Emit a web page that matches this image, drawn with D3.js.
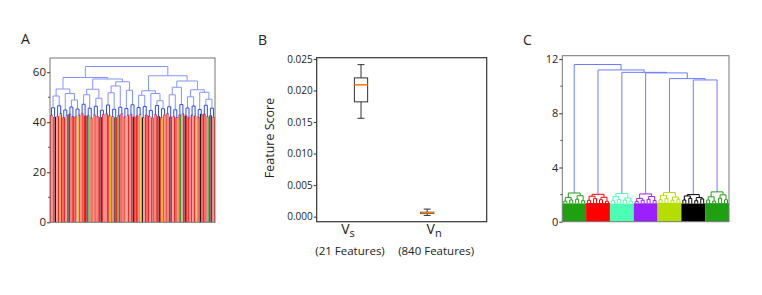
<!DOCTYPE html>
<html>
<head>
<meta charset="utf-8">
<script src="https://cdn.jsdelivr.net/npm/d3@7"></script>
<style>
	body { margin: 0; background: #fff; }
	text { font-family: 'Open Sans', sans-serif; fill: #222; }
</style>
</head>
<body>
<script>
// ---- panel A: dendrogram over all features ----
// leaf groups: [group merge, left pair merge, right pair merge, leaf colours]
var groupsA = [
	[45.8, 42.9, 42.1, 'rprk'], [46.6, 42.4, 43.5, 'pryr'], [44.9, 41.9, 42.8, 'rrpg'],
	[46.1, 43.3, 42.3, 'kprr'], [45.3, 42.2, 42.9, 'rpyr'], [47.2, 43.6, 42.6, 'prrk'],
	[45.6, 42.7, 41.8, 'rgpr'], [46.4, 43.0, 42.4, 'yrpr'], [44.8, 42.0, 43.2, 'rkrp'],
	[46.9, 43.4, 42.7, 'prry'], [45.2, 42.3, 41.9, 'rpkr'], [46.0, 42.8, 43.4, 'grrp'],
	[45.5, 42.2, 42.8, 'rypr'], [47.0, 43.2, 42.1, 'prkr'], [45.9, 42.6, 43.1, 'rrpy'],
	[46.3, 41.9, 42.9, 'kprr'], [44.7, 42.5, 41.8, 'rpgr'], [46.7, 43.1, 42.4, 'prrk'],
	[45.4, 42.0, 43.0, 'ryrp'], [46.2, 43.5, 42.2, 'rpkr'], [45.0, 42.4, 41.9, 'prry'],
	[47.1, 43.0, 43.4, 'rgpr'], [45.7, 42.6, 42.0, 'krrp'], [46.5, 42.9, 42.5, 'rpry'],
	[45.1, 42.1, 43.3, 'prkr'], [46.8, 43.3, 42.3, 'rrpg'], [45.6, 42.7, 42.0, 'rkpr']
];
// upper tree: [merge height, left, right], numbers are group indices
var topTreeA = [62.3,
	[57.9,
		[53.3, [50.5, 0, 1], [51.5, 2, [48.9, 3, 4]]],
		[57.3,
			[53.2, [51.0, 5, 6], [49.6, 7, 8]],
			[56.2, [54.5, [51.8, 9, 10], 11], [52.8, 12, 13]]]],
	[58.6,
		[52.6, [50.8, 14, 15], [51.5, 16, [48.6, 17, 18]]],
		[56.5,
			[54.0, [51.0, 19, 20], 21],
			[53.0, [50.2, 22, 23], [52.0, 24, [49.2, 25, 26]]]]]
];
var leafColorsA = { r: '#ff1f1f', p: '#ef8585', k: '#1a1a1a', y: '#d4c21c', g: '#2e9e2e' };
var ticksA = [0, 20, 40, 60];
var minorTicksA = [10, 30, 50];

// ---- panel B: feature score box plots ----
var seriesB = ['s', 'n'];
var featureCountB = [21, 840];
var whiskerLoB = [0.0156, 0.0002];
var q1B = [0.0182, 0.0005];
var medianB = [0.0209, 0.0006];
var q3B = [0.0220, 0.0007];
var whiskerHiB = [0.0241, 0.0012];
var ticksB = [0, 0.005, 0.010, 0.015, 0.020, 0.025];

// ---- panel C: dendrogram of the 7 clusters ----
var clusterColorsC = ['#1fa012', '#ff0000', '#4dffb2', '#9b1fff', '#b5dd00', '#000000', '#1fa012'];
var clusterBlockC = [1.35, 1.38, 1.33, 1.36, 1.4, 1.34, 1.37];
// each cluster's sub-tree, 0 marks a leaf
var clusterTreesC = [
	[2.12, [1.78, [1.52, 0, 0], [1.6, 0, 0]], [1.92, [1.66, 0, 0], [1.55, 0, 0]]],
	[2.02, [1.88, [1.58, 0, 0], [1.7, 0, 0]], [1.8, [1.62, 0, 0], [1.5, 0, 0]]],
	[2.08, [1.85, [1.55, 0, 0], [1.64, 0, 0]], [1.75, [1.6, 0, 0], [1.52, 0, 0]]],
	[2.05, [1.72, [1.5, 0, 0], [1.58, 0, 0]], [1.86, [1.65, 0, 0], [1.56, 0, 0]]],
	[2.15, [1.95, [1.62, 0, 0], [1.7, 0, 0]], [1.82, [1.58, 0, 0], [1.66, 0, 0]]],
	[2.0, [1.9, [1.6, 0, 0], [1.72, 0, 0]], [1.78, [1.55, 0, 0], [1.68, 0, 0]]],
	[2.2, [1.84, [1.6, 0, 0], [1.52, 0, 0]], [1.98, [1.74, 0, 0], [1.62, 0, 0]]]
];
var topTreeC = [11.6, 0, [11.2, 1, [11.02, 2, [10.98, 3, [10.56, 4, [10.46, 5, 6]]]]]];
var ticksC = [0, 4, 8, 12];
var minorTicksC = [2, 6, 10];

var width = 762, height = 295;
var svg = d3.select('body').append('svg')
	.attr('width', width)
	.attr('height', height);

function panelLetter(t, x, y) {
	svg.append('text').text(t)
		.attr('x', x).attr('y', y)
		.style('font-size', '14px');
}

function frame(box, color, w) {
	svg.append('rect')
		.attr('x', box.x0).attr('y', box.y1)
		.attr('width', box.x1 - box.x0).attr('height', box.y0 - box.y1)
		.attr('fill', 'none')
		.attr('stroke', color)
		.attr('stroke-width', w);
}

function leftAxis(box, y, ticks, minor, fmt, size) {
	var g = svg.append('g').attr('transform', 'translate(' + box.x0 + ',0)');
	g.call(d3.axisLeft(y).tickValues(ticks).tickFormat(fmt).tickSize(3).tickPadding(1));
	g.select('.domain').remove();
	g.selectAll('text').style('font-size', size).style('font-family', "'Open Sans', sans-serif").attr('fill', '#222');
	g.selectAll('line').attr('stroke', '#333');
	if (minor) {
		g.selectAll('.minor').data(minor).enter().append('line')
			.attr('x1', -2).attr('x2', 0)
			.attr('y1', function(d) { return y(d); })
			.attr('y2', function(d) { return y(d); })
			.attr('stroke', '#555');
	}
}

// draws a scipy style dendrogram from a laid out hierarchy
function drawDendro(root, x0, y, linkColor, leafColor, w) {
	var g = svg.append('g');
	root.descendants().filter(function(d) { return d.parent; }).forEach(function(d) {
		g.append('line')
			.attr('x1', x0 + d.x).attr('x2', x0 + d.x)
			.attr('y1', y(d.data.h)).attr('y2', y(d.parent.data.h))
			.attr('stroke', d.children ? linkColor(d.parent) : leafColor(d))
			.attr('stroke-width', d.children ? 1 : w);
	});
	root.descendants().filter(function(d) { return d.children; }).forEach(function(d) {
		g.append('line')
			.attr('x1', x0 + d.children[0].x).attr('x2', x0 + d.children[1].x)
			.attr('y1', y(d.data.h)).attr('y2', y(d.data.h))
			.attr('stroke', linkColor(d))
			.attr('stroke-width', 1);
	});
}

// ---- A ----
function drawA() {
	var box = { x0: 50, x1: 215, y0: 222.3, y1: 58 };
	var y = d3.scaleLinear().domain([0, 65.7]).range([box.y0, box.y1]);

	function leaf(c) { return { h: 0, color: leafColorsA[c] }; }
	function build(node) {
		if (typeof node === 'number') {
			var gr = groupsA[node];
			return { h: gr[0], children: [
				{ h: gr[1], children: [leaf(gr[3][0]), leaf(gr[3][1])] },
				{ h: gr[2], children: [leaf(gr[3][2]), leaf(gr[3][3])] }
			] };
		}
		return { h: node[0], children: [build(node[1]), build(node[2])] };
	}

	var root = d3.hierarchy(build(topTreeA));
	d3.cluster().size([box.x1 - box.x0, 1]).separation(function() { return 1; })(root);

	drawDendro(root, box.x0, y,
		function(d) { return d.data.h < 47.5 ? '#2f4dff' : '#8494ff'; },
		function(d) { return d.data.color; },
		1.3);

	frame(box, '#777', 1);
	leftAxis(box, y, ticksA, minorTicksA, d3.format('d'), '11.5px');
	panelLetter('A', 21, 44);
}
drawA();

// ---- B ----
function drawB() {
	var box = { x0: 316.7, x1: 486.7, y0: 221.7, y1: 57.7 };
	var y = d3.scaleLinear().domain([-0.0008, 0.0252]).range([box.y0, box.y1]);
	var x = d3.scaleLinear().domain([0.33, 2.9]).range([box.x0, box.x1]);
	var boxW = x(0.2) - x(0), capW = x(0.105) - x(0);

	frame(box, '#333', 1.2);

	seriesB.forEach(function(s, i) {
		var cx = x(i + 1);
		var g = svg.append('g');
		g.append('line').attr('x1', cx).attr('x2', cx)
			.attr('y1', y(whiskerHiB[i])).attr('y2', y(q3B[i])).attr('stroke', '#333');
		g.append('line').attr('x1', cx).attr('x2', cx)
			.attr('y1', y(whiskerLoB[i])).attr('y2', y(q1B[i])).attr('stroke', '#333');
		[whiskerLoB[i], whiskerHiB[i]].forEach(function(v) {
			g.append('line').attr('x1', cx - capW / 2).attr('x2', cx + capW / 2)
				.attr('y1', y(v)).attr('y2', y(v)).attr('stroke', '#333');
		});
		g.append('rect')
			.attr('x', cx - boxW / 2).attr('y', y(q3B[i]))
			.attr('width', boxW).attr('height', Math.max(y(q1B[i]) - y(q3B[i]), 1))
			.attr('fill', 'none').attr('stroke', '#333');
		g.append('line').attr('x1', cx - boxW / 2).attr('x2', cx + boxW / 2)
			.attr('y1', y(medianB[i])).attr('y2', y(medianB[i]))
			.attr('stroke', '#ff7f0e').attr('stroke-width', 1.6);

		// tick labels sit a bit off the box centres in the original figure
		var lx = cx + (i == 0 ? -11 : 9);
		var t = svg.append('text').attr('x', lx - 2).attr('y', 234).attr('text-anchor', 'middle')
			.style('font-size', '14px');
		t.append('tspan').text('V');
		t.append('tspan').text(s).attr('dy', 3).style('font-size', '11px');
		svg.append('text').text('(' + featureCountB[i] + ' Features)')
			.attr('x', lx).attr('y', 255).attr('text-anchor', 'middle')
			.style('font-size', '11.5px');
	});

	leftAxis(box, y, ticksB, null, d3.format('.3f'), '10px');

	svg.append('text').text('Feature Score')
		.attr('text-anchor', 'middle')
		.attr('transform', 'translate(274,138) rotate(-90)')
		.style('font-size', '12.5px');
	panelLetter('B', 258, 45);
}
drawB();

// ---- C ----
function drawC() {
	var box = { x0: 562.3, x1: 729, y0: 221.7, y1: 55.7 };
	var y = d3.scaleLinear().domain([0, 12.25]).range([box.y0, box.y1]);

	function buildSub(t, ci) {
		if (t === 0) return { h: clusterBlockC[ci], ci: ci };
		return { h: t[0], ci: ci, children: [buildSub(t[1], ci), buildSub(t[2], ci)] };
	}
	function build(node) {
		if (typeof node === 'number') return buildSub(clusterTreesC[node], node);
		return { h: node[0], children: [build(node[1]), build(node[2])] };
	}

	var root = d3.hierarchy(build(topTreeC));
	d3.cluster().size([box.x1 - box.x0, 1]).separation(function() { return 1; })(root);
	var leaves = root.leaves();
	var step = (box.x1 - box.x0) / leaves.length;

	// solid blocks where the dense leaves pile up
	clusterColorsC.forEach(function(c, ci) {
		var xs = leaves.filter(function(d) { return d.data.ci === ci; }).map(function(d) { return d.x; });
		var xa = d3.min(xs) - step / 2, xb = d3.max(xs) + step / 2;
		svg.append('rect')
			.attr('x', box.x0 + xa).attr('y', y(clusterBlockC[ci]))
			.attr('width', xb - xa).attr('height', y(0) - y(clusterBlockC[ci]))
			.attr('fill', c);
	});

	function linkColor(d) {
		return d.data.ci !== undefined ? clusterColorsC[d.data.ci] : '#6c7eff';
	}
	drawDendro(root, box.x0, y, linkColor, function(d) { return clusterColorsC[d.data.ci]; }, 1);

	frame(box, '#777', 1);
	leftAxis(box, y, ticksC, minorTicksC, d3.format('d'), '11px');
	panelLetter('C', 523, 45);
}
drawC();
</script>
</body>
</html>
